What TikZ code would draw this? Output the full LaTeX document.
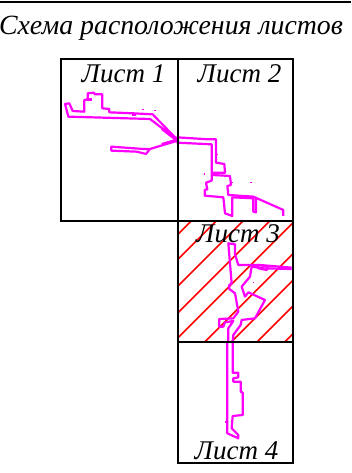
\documentclass[tikz,border=0pt]{standalone}
\usepackage{fontspec}
\setmainfont{Liberation Serif}
\tikzset{
  sheet/.style={draw=black,line width=2.2pt,fill=none},
  route/.style={draw=magenta1,line width=2.2pt,line join=round},
  hatch/.style={draw=red,line width=1.6pt},
  label/.style={inner sep=0pt,anchor=base,font=\fontsize{27}{28}\selectfont\itshape},
  titlestyle/.style={inner sep=0pt,anchor=base,font=\fontsize{27.8}{30}\selectfont\itshape},
  zoomed/.style={x=0.3333pt,y=-0.3333pt}
}
\definecolor{magenta1}{RGB}{255,0,255}
\begin{document}
\begin{tikzpicture}[x=1pt,y=-1pt]
\useasboundingbox (0,0) rectangle (351,473);
\fill[white] (0,0) rectangle (351,473);
\draw[black,line width=1.6pt] (0,2) -- (351,2);
\node[titlestyle] (title) at (171,35) {Схема расположения листов};
% hatch on sheet 3
\begin{scope}
\clip (178,221) rectangle (293,342);
\begin{scope}[shift={(170,215)},zoomed]
\foreach \c in {82,157,237,317,392,485,565,642,725}
  \draw[hatch] (0,\c) -- (\c,0);
\end{scope}
\end{scope}
% routes sheet 1
\begin{scope}[shift={(50,50)},zoomed]
\draw[route] (45,162) -- (58,160) -- (68,183) -- (103,185) -- (103,150) -- (113,148) -- (113,130) -- (132,128) -- (134,133) -- (157,133) -- (157,175) -- (178,177) -- (178,187) -- (250,190) -- (308,193) -- (383,270) -- (300,207) -- (55,200) -- cycle;
\draw[route] (383,272) -- (300,297) -- (288,312) -- (260,305) -- (184,302) -- (184,290) -- (280,297) -- (300,297);
\fill[magenta1] (110,143) rectangle (127,152);
\fill[magenta1] (245,190) rectangle (258,198);
\fill[magenta1] (277,178) rectangle (282,181);
\fill[magenta1] (312,179) rectangle (317,182);
\fill[magenta1] (68,202) rectangle (85,205);
\end{scope}
% routes sheet 2
\begin{scope}[shift={(170,50)},zoomed]
\draw[route] (-25,237) -- (18,270) -- (-25,282);
\draw[route] (20,262) -- (115,268) -- (138,268) -- (138,338) -- (163,342) -- (165,368) -- (128,368) -- (128,375) -- (180,378) -- (183,405) -- (172,408) -- (175,435) -- (250,440) -- (340,480) -- (340,498);
\draw[route] (20,278) -- (125,283) -- (125,392) -- (108,398) -- (112,418) -- (104,420) -- (104,437) -- (160,442) -- (165,490) -- (187,498) -- (187,442) -- (250,445) -- (250,485) -- (258,487) -- (258,445);
\fill[magenta1] (101,370) rectangle (105,374);
\fill[magenta1] (186,396) rectangle (190,400);
\fill[magenta1] (241,396) rectangle (246,400);
\fill[magenta1] (140,311) rectangle (144,314);
\end{scope}
% routes sheet 3
\begin{scope}[shift={(170,215)},zoomed]
\draw[route] (365,158) -- (270,150) -- (205,150) -- (195,118) -- (195,88) -- (175,85) -- (185,205) -- (178,210) -- (178,222) -- (195,235) -- (205,290) -- (190,310) -- (148,312) -- (148,335) -- (160,335) -- (165,322) -- (190,318) -- (175,340) -- (175,382);
\draw[route] (365,162) -- (280,160) -- (245,155) -- (240,185) -- (215,215) -- (225,245) -- (235,232) -- (285,255) -- (255,310) -- (215,315) -- (212,330) -- (190,360) -- (188,382);
\draw[route] (265,150) -- (295,155) -- (290,165) -- (265,160) -- cycle;
\fill[magenta1] (248,202) rectangle (252,205);
\end{scope}
% routes sheet 4
\begin{scope}[shift={(170,340)},zoomed]
\draw[route] (172,6) -- (172,280) -- (205,295) -- (205,285) -- (185,265) -- (188,228) -- (218,225) -- (218,158) -- (212,155) -- (212,125) -- (190,125) -- (190,115) -- (205,112) -- (205,98) -- (188,98) -- (188,6);
\fill[magenta1] (166,243) rectangle (170,248);
\end{scope}
% sheets
\draw[sheet] (61,59) rectangle (178,221);
\draw[sheet] (178,59) rectangle (293,221);
\draw[sheet] (178,221) rectangle (293,342);
\draw[sheet] (178,342) rectangle (293,463);
\node[label] (l1) at (123.5,83) {Лист 1};
\node[label] (l2) at (239.5,83) {Лист 2};
\node[label] (l3) at (238,242) {Лист 3};
\node[label] (l4) at (236.5,459) {Лист 4};
\end{tikzpicture}
\end{document}
